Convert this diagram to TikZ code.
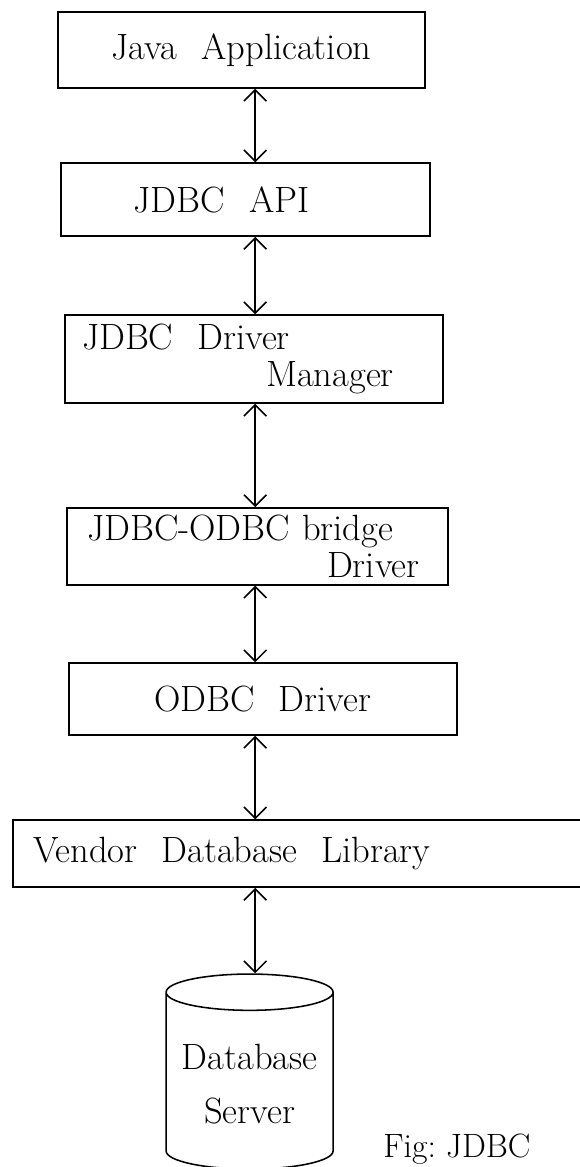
\documentclass[tikz,border=0pt]{standalone}
\usepackage{tikz}
\usetikzlibrary{shapes.geometric, arrows.meta, positioning, calc}

\newcommand{\gap}{\hspace{0.6cm}}

\begin{document}
\begin{tikzpicture}[
    layer/.style={draw, line width=1.1pt, inner sep=0pt, font=\fontsize{26}{26}\selectfont},
    link/.style={{Straight Barb[length=8pt,width=16pt]}-{Straight Barb[length=8pt,width=16pt]}, line width=1.1pt}
  ]
  \useasboundingbox (0,0) rectangle (14.5,-29.175);
  \coordinate (spine) at (6.38,0);

  \node[layer, minimum width=9.175cm, minimum height=1.9cm] (app) at (6.04,-1.25) {Java\gap Application};
  \node[layer, minimum width=9.225cm, minimum height=1.825cm] (api) at (6.14,-4.99) {\hspace*{-1.2cm}JDBC\gap API};
  \node[layer, minimum height=2.2cm, inner xsep=0.425cm, text width=8.6cm, align=left] (mgr) at (6.35,-8.975)
    {JDBC\gap Driver\\\hspace*{4.6cm}Manager};
  \node[layer, minimum height=1.925cm, inner xsep=0.5cm, text width=8.525cm, align=left] (bridge) at (6.44,-13.66)
    {JDBC-ODBC bridge\\\hspace*{6cm}Driver};
  \node[layer, minimum width=9.7cm, minimum height=1.8cm] (odbc) at (6.575,-17.475) {ODBC\gap Driver};
  \node[layer, minimum height=1.675cm, inner xsep=0.5cm, text width=13.425cm, align=left] (lib) at (7.54,-21.34)
    {Vendor\gap Database\gap Library};
  \node[cylinder, shape border rotate=90, aspect=0.25, draw, line width=1.1pt, minimum width=4.175cm,
    minimum height=4.875cm, align=center, font=\fontsize{26}{38}\selectfont] (db) at (6.24,-27.1)
    {Database\\Server};

  \draw[link] (app.south -| spine) -- (api.north -| spine);
  \draw[link] (api.south -| spine) -- (mgr.north -| spine);
  \draw[link] (mgr.south -| spine) -- (bridge.north -| spine);
  \draw[link] (bridge.south -| spine) -- (odbc.north -| spine);
  \draw[link] (odbc.south -| spine) -- (lib.north -| spine);
  \draw[link] (lib.south -| spine) -- (db.north -| spine);

  \node[anchor=north west, inner sep=0pt, font=\fontsize{24}{24}\selectfont] (fig) at (9.575,-28.35) {Fig:\ JDBC};
\end{tikzpicture}
\end{document}
